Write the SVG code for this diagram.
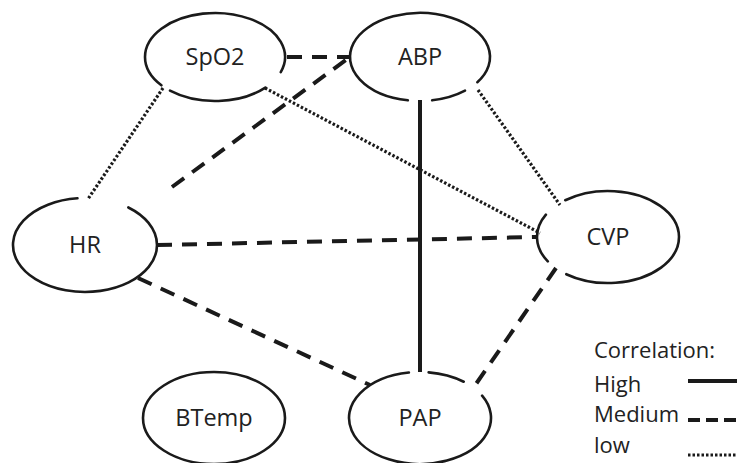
<svg xmlns="http://www.w3.org/2000/svg" width="739" height="463" viewBox="0 0 739 463">
<style>
.node{fill:none;stroke:#1a1a1a;stroke-width:2.6;stroke-linecap:round}
.lbl{font-family:"Open Sans","Liberation Sans",sans-serif;font-size:23.5px;fill:#222;text-anchor:middle}
.leg{font-family:"Open Sans","Liberation Sans",sans-serif;font-size:22px;fill:#222}
.high{stroke:#1a1a1a;stroke-width:4;fill:none}
.med{stroke:#1a1a1a;stroke-width:4;fill:none;stroke-dasharray:15 10}
.low{stroke:#1a1a1a;stroke-width:3.2;fill:none;stroke-dasharray:2.5 2}
</style>
<rect width="739" height="463" fill="#fff"/>
<g id="connectors">
<line class="med" x1="287" y1="57" x2="350" y2="57"/>
<line class="med" x1="172" y1="187" x2="350" y2="57"/>
<line class="med" x1="157" y1="245" x2="537" y2="237"/>
<line class="med" x1="138" y1="278" x2="370" y2="385"/>
<line class="med" x1="556" y1="268" x2="476" y2="384"/>
<line class="high" x1="420" y1="100" x2="420" y2="372"/>
<line class="low" x1="163" y1="88" x2="88" y2="199"/>
<line class="low" x1="265" y1="88" x2="540" y2="233"/>
<line class="low" x1="478" y1="90" x2="560" y2="205"/>
</g>
<g id="SpO2">
<path class="node" d="M265.35,87.57 A70,44 0 0,1 170.0,90.70 M161.38,85.28 A70,44 0 1,1 280.78,72.05"/>
<text class="lbl" x="215" y="65">SpO2</text>
</g>
<g id="ABP">
<path class="node" d="M465.0,90.70 A70,44 0 0,1 432.15,100.33 M407.85,100.33 A70,44 0 1,1 477.34,82.24"/>
<text class="lbl" x="420" y="65">ABP</text>
</g>
<g id="HR">
<path class="node" d="M128.33,207.47 A72,47 0 1,1 77.47,198.26"/>
<text class="lbl" x="85" y="253">HR</text>
</g>
<g id="CVP">
<path class="node" d="M565.27,200.26 A71,46 0 1,1 566.27,274.22 M547.79,261.38 A71,46 0 0,1 545.90,214.70"/>
<text class="lbl" x="608" y="245">CVP</text>
</g>
<g id="BTemp">
<ellipse class="node" cx="214" cy="418" rx="71" ry="46"/>
<text class="lbl" x="214" y="426">BTemp</text>
</g>
<g id="PAP">
<path class="node" d="M482.10,395.70 A71,46 0 1,1 408.89,372.57 M428.65,372.35 A71,46 0 0,1 463.71,381.75"/>
<text class="lbl" x="420" y="426">PAP</text>
</g>
<g id="legend">
<text class="leg" x="594" y="358">Correlation:</text>
<text class="leg" x="594" y="392">High</text>
<text class="leg" x="594" y="422">Medium</text>
<text class="leg" x="594" y="453">low</text>
<line class="high" x1="688" y1="381" x2="737" y2="381"/>
<line class="high" x1="688" y1="420" x2="737" y2="420" style="stroke-dasharray:12 6"/>
<line class="low" x1="688" y1="455" x2="737" y2="455"/>
</g>
</svg>
